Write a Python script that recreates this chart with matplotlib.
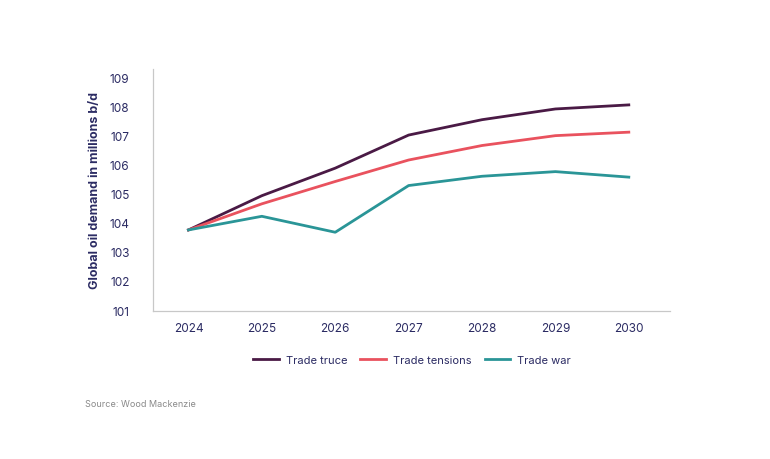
import matplotlib
matplotlib.use("Agg")
import matplotlib.pyplot as plt

plt.rcParams['font.family'] = ['Inter', 'DejaVu Sans']

years = [2024, 2025, 2026, 2027, 2028, 2029, 2030]
trade_truce = [103.76, 104.94, 105.89, 107.03, 107.56, 107.93, 108.07]
trade_tensions = [103.76, 104.66, 105.43, 106.17, 106.67, 107.01, 107.13]
trade_war = [103.76, 104.23, 103.68, 105.29, 105.61, 105.77, 105.58]
yticks = [101, 102, 103, 104, 105, 106, 107, 108, 109]

navy = '#2b2b63'

fig = plt.figure(figsize=(7.7, 4.6), dpi=100)
ax = fig.add_axes([0.199, 0.322, 0.671, 0.526])

ax.plot(years, trade_truce, color='#4a1a45', lw=2, label='Trade truce')
ax.plot(years, trade_tensions, color='#e9525e', lw=2, label='Trade tensions')
ax.plot(years, trade_war, color='#2a9597', lw=2, label='Trade war')

ax.set_xlim(2023.52, 2030.56)
ax.set_ylim(100.97, 109.31)
ax.set_xticks(years)
ax.set_yticks(yticks)
ax.tick_params(length=0, labelsize=8.5, labelcolor=navy)
ax.tick_params(axis='x', pad=8)
ax.tick_params(axis='y', pad=17)
for s in ['top', 'right']:
    ax.spines[s].set_visible(False)
for s in ['left', 'bottom']:
    ax.spines[s].set_color('#c8c8c8')
    ax.spines[s].set_linewidth(0.9)

ax.set_ylabel('Global oil demand in millions b/d', fontsize=9, fontweight='bold',
              color=navy, labelpad=6)

fig.legend(loc='center', bbox_to_anchor=(0.535, 0.215), ncol=3, frameon=False,
           fontsize=8, labelcolor=navy, handlelength=2.3, handletextpad=0.6,
           columnspacing=1.2)

fig.text(0.11, 0.115, 'Source: Wood Mackenzie', fontsize=6.5, color='#8a8a8a')

fig.savefig('out.png', dpi=100, facecolor='white')
